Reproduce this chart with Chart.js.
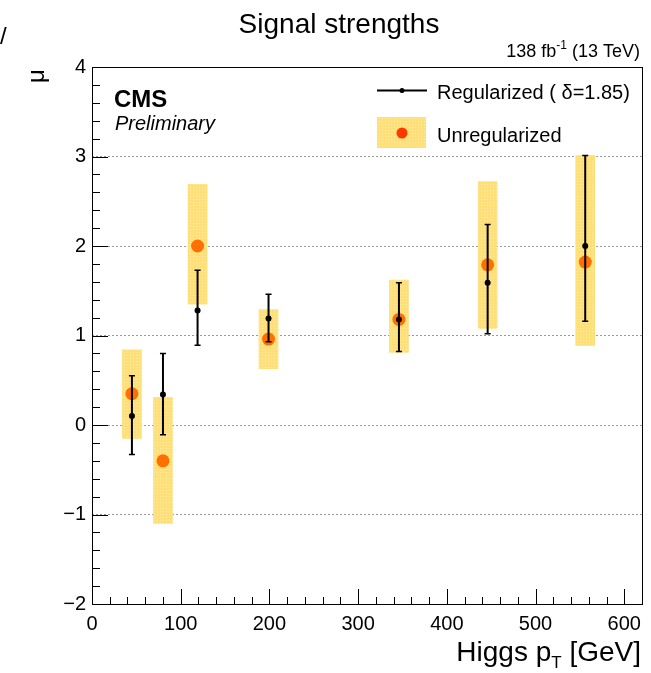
<!DOCTYPE html>
<html>
<head>
<meta charset="utf-8">
<script src="https://cdn.jsdelivr.net/npm/chart.js@4.4.1/dist/chart.umd.min.js"></script>
<style>
  html, body { margin: 0; padding: 0; background: #fff; }
  #wrap { width: 651px; height: 673px; position: relative; }
</style>
</head>
<body>
<div id="wrap"><canvas id="muChart" width="651" height="673"></canvas></div>
<script>
// pT bin centres (GeV)
const binCenters = [45, 80, 119, 199, 346, 446, 556];

// unregularized fit: central value and 68% band
const unregMu = [0.35, -0.40, 2.00, 0.96, 1.18, 1.79, 1.82];
const unregLo = [-0.15, -1.10, 1.35, 0.63, 0.81, 1.08, 0.89];
const unregHi = [0.84, 0.31, 2.69, 1.29, 1.62, 2.72, 3.01];

// regularized fit (delta = 1.85) with error bars
const regMu = [0.10, 0.34, 1.28, 1.19, 1.18, 1.59, 2.00];
const regLo = [-0.33, -0.11, 0.89, 0.93, 0.82, 1.02, 1.16];
const regHi = [0.55, 0.80, 1.73, 1.46, 1.59, 2.24, 3.01];

const xRange = [0, 620];
const yRange = [-2, 4];
const xTickValues = [0, 100, 200, 300, 400, 500, 600];

const FONT = "'Liberation Sans', Arial, Helvetica, sans-serif";
const BAND_COLOR = '#ffdf78';

// dotted yellow fill like the ROOT band style
function makeBandPattern() {
    const c = document.createElement('canvas');
    c.width = 3; c.height = 3;
    const g = c.getContext('2d');
    g.fillStyle = BAND_COLOR;
    g.fillRect(0, 0, 3, 3);
    g.fillStyle = '#ffedb0';
    g.fillRect(1, 1, 1, 1);
    return g.createPattern(c, 'repeat');
}
const bandFill = makeBandPattern();

// ROOT-like inner tick marks + frame
const frameTicks = {
    id: 'frameTicks',
    afterDraw(chart) {
        const { ctx, chartArea: a, scales: { x, y } } = chart;
        ctx.save();
        ctx.strokeStyle = '#000';
        ctx.lineWidth = 1;
        ctx.beginPath();
        for (let v = yRange[0]; v <= yRange[1] + 1e-6; v += 0.2) {
            const r = Math.round(v * 10) / 10;
            const py = Math.round(y.getPixelForValue(r)) + 0.5;
            const len = Math.abs(r - Math.round(r)) < 1e-6 ? 16 : 8;
            ctx.moveTo(a.left, py);
            ctx.lineTo(a.left + len, py);
        }
        for (let v = xRange[0]; v <= xRange[1]; v += 20) {
            const px = Math.round(x.getPixelForValue(v)) + 0.5;
            const len = v % 100 === 0 ? 15 : 7;
            ctx.moveTo(px, a.bottom);
            ctx.lineTo(px, a.bottom - len);
        }
        ctx.stroke();
        ctx.strokeRect(Math.round(a.left) + 0.5, Math.round(a.top) + 0.5,
            Math.round(a.right - a.left), Math.round(a.bottom - a.top));
        ctx.restore();
    }
};

// vertical error bars for the regularized points
const errorBars = {
    id: 'errorBars',
    afterDatasetsDraw(chart) {
        const { ctx, scales: { x, y } } = chart;
        ctx.save();
        ctx.strokeStyle = '#000';
        binCenters.forEach((c, i) => {
            const px = x.getPixelForValue(c);
            const top = y.getPixelForValue(regHi[i]);
            const bot = y.getPixelForValue(regLo[i]);
            ctx.lineWidth = 2;
            ctx.beginPath();
            ctx.moveTo(px, top);
            ctx.lineTo(px, bot);
            ctx.stroke();
            ctx.lineWidth = 1.5;
            ctx.beginPath();
            ctx.moveTo(px - 3, top); ctx.lineTo(px + 3, top);
            ctx.moveTo(px - 3, bot); ctx.lineTo(px + 3, bot);
            ctx.stroke();
            ctx.fillStyle = '#000';
            ctx.beginPath();
            ctx.arc(px, y.getPixelForValue(regMu[i]), 3, 0, Math.PI * 2);
            ctx.fill();
        });
        ctx.restore();
    }
};

// titles, labels and legend
const annotations = {
    id: 'annotations',
    afterDraw(chart) {
        const ctx = chart.ctx;
        ctx.save();
        ctx.fillStyle = '#000';
        ctx.textBaseline = 'alphabetic';

        ctx.font = '28px ' + FONT;
        ctx.textAlign = 'center';
        ctx.fillText('Signal strengths', 339, 33);

        ctx.font = '24px ' + FONT;
        ctx.textAlign = 'left';
        ctx.fillText('/', 0, 44);

        // 138 fb^-1 (13 TeV), right aligned
        ctx.font = '18px ' + FONT;
        const p1 = '138 fb', p3 = ' (13 TeV)';
        const w1 = ctx.measureText(p1).width, w3 = ctx.measureText(p3).width;
        ctx.font = '12px ' + FONT;
        const w2 = ctx.measureText('-1').width;
        let sx = 640 - (w1 + w2 + w3);
        ctx.font = '18px ' + FONT;
        ctx.fillText(p1, sx, 57);
        ctx.font = '12px ' + FONT;
        ctx.fillText('-1', sx + w1, 49);
        ctx.font = '18px ' + FONT;
        ctx.fillText(p3, sx + w1 + w2, 57);

        // y title
        ctx.save();
        ctx.translate(44, 76);
        ctx.rotate(-Math.PI / 2);
        ctx.font = '24px ' + FONT;
        ctx.textAlign = 'center';
        ctx.fillText('\u03bc', 0, 0);
        ctx.restore();

        // x title: Higgs p_T [GeV]
        ctx.font = '28px ' + FONT;
        const h1 = 'Higgs p', h3 = ' [GeV]';
        const hw1 = ctx.measureText(h1).width, hw3 = ctx.measureText(h3).width;
        ctx.font = '17px ' + FONT;
        const hw2 = ctx.measureText('T').width;
        let hx = 641 - (hw1 + hw2 + hw3);
        ctx.font = '28px ' + FONT;
        ctx.fillText(h1, hx, 661);
        ctx.font = '17px ' + FONT;
        ctx.fillText('T', hx + hw1, 668);
        ctx.font = '28px ' + FONT;
        ctx.fillText(h3, hx + hw1 + hw2, 661);

        // CMS label
        ctx.font = 'bold 24px ' + FONT;
        ctx.fillText('CMS', 114, 107);
        ctx.font = 'italic 20px ' + FONT;
        ctx.fillText('Preliminary', 115, 130);

        // legend
        ctx.strokeStyle = '#000';
        ctx.lineWidth = 2;
        ctx.beginPath();
        ctx.moveTo(377, 90.5);
        ctx.lineTo(427, 90.5);
        ctx.stroke();
        ctx.beginPath();
        ctx.arc(402, 90.5, 2.5, 0, Math.PI * 2);
        ctx.fill();
        ctx.fillStyle = bandFill;
        ctx.fillRect(377, 117, 49, 31);
        ctx.fillStyle = '#ff3a00';
        ctx.beginPath();
        ctx.arc(402, 133, 5.5, 0, Math.PI * 2);
        ctx.fill();
        ctx.fillStyle = '#000';
        ctx.font = '20px ' + FONT;
        ctx.fillText('Regularized ( \u03b4=1.85)', 437, 99);
        ctx.fillText('Unregularized', 437, 142);
        ctx.restore();
    }
};

const ctx = document.getElementById('muChart').getContext('2d');
new Chart(ctx, {
    type: 'bar',
    data: {
        datasets: [{
            type: 'scatter',
            label: 'Unregularized',
            data: binCenters.map((c, i) => ({ x: c, y: unregMu[i] })),
            pointRadius: 6.5,
            pointBackgroundColor: '#ff7000',
            pointBorderWidth: 0,
            order: 1
        }, {
            type: 'bar',
            label: 'band',
            data: binCenters.map((c, i) => ({ x: c, y: [unregLo[i], unregHi[i]] })),
            backgroundColor: bandFill,
            borderWidth: 0,
            barThickness: 19,
            order: 2
        }]
    },
    options: {
        responsive: false,
        animation: false,
        layout: { padding: { top: 67, right: 9, left: 0, bottom: 0 } },
        plugins: { legend: { display: false }, tooltip: { enabled: false }, title: { display: false } },
        scales: {
            x: {
                type: 'linear',
                min: xRange[0],
                max: xRange[1],
                offset: false,
                afterFit: s => { s.height = 69; },
                afterBuildTicks: s => { s.ticks = xTickValues.map(v => ({ value: v })); },
                grid: { display: false, offset: false },
                border: { display: false },
                ticks: {
                    maxRotation: 0,
                    autoSkip: false,
                    padding: 0,
                    color: '#000',
                    font: { family: FONT, size: 20 },
                    callback: v => String(v)
                }
            },
            y: {
                min: yRange[0],
                max: yRange[1],
                afterFit: s => { s.width = 92; },
                grid: {
                    drawTicks: false,
                    lineWidth: 1,
                    color: c => (c.tick.value > yRange[0] && c.tick.value < yRange[1]) ? '#9a9a9a' : 'rgba(0,0,0,0)'
                },
                border: { display: false, dash: [2, 2] },
                ticks: {
                    stepSize: 1,
                    padding: 6,
                    color: '#000',
                    font: { family: FONT, size: 20 },
                    callback: v => (v < 0 ? '\u2212' + Math.abs(v) : String(v))
                }
            }
        }
    },
    plugins: [errorBars, frameTicks, annotations]
});
</script>
</body>
</html>
